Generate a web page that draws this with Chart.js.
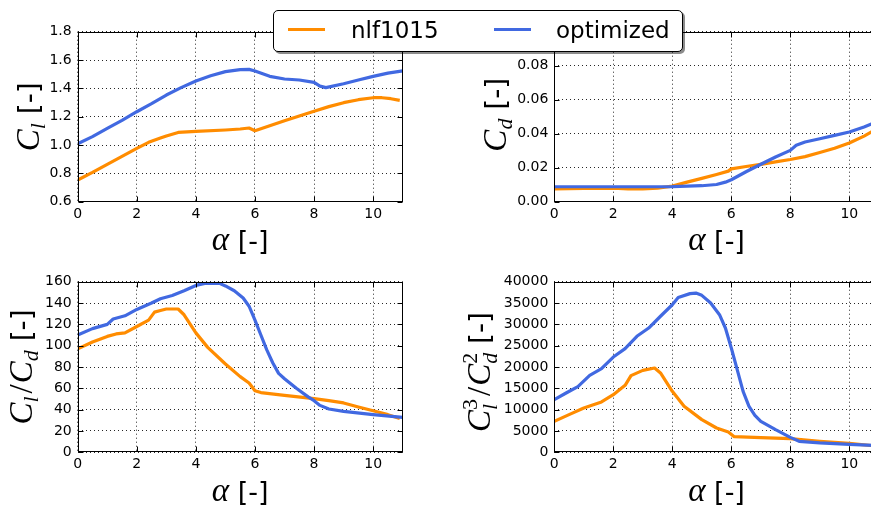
<!DOCTYPE html>
<html>
<head>
<meta charset="utf-8">
<script src="https://cdn.jsdelivr.net/npm/chart.js@4.4.0/dist/chart.umd.min.js"></script>
<style>
html,body{margin:0;padding:0;width:871px;height:506px;overflow:hidden;background:#fff;}
.panel{position:absolute;}
#legend{position:absolute;left:273px;top:10px;width:410px;height:42px;box-sizing:border-box;border:1px solid #000;border-radius:5px;background:#fff;box-shadow:2px 2px 0 rgba(0,0,0,0.45);font-family:"DejaVu Sans";font-size:23px;z-index:10;}
#legend .sw{position:absolute;height:3px;}
#legend .lb{position:absolute;line-height:23px;white-space:nowrap;color:#000;}
</style>
</head>
<body>
<div id="legend"></div>
<div class="panel" id="p_tl"><canvas id="c_tl"></canvas></div>
<div class="panel" id="p_tr"><canvas id="c_tr"></canvas></div>
<div class="panel" id="p_bl"><canvas id="c_bl"></canvas></div>
<div class="panel" id="p_br"><canvas id="c_br"></canvas></div>
<script>
// ---------------- data ----------------
const SERIES_NAMES = ['nlf1015', 'optimized'];

const X_TICKS = [0, 2, 4, 6, 8, 10];
const X_TICK_LABELS = ['0', '2', '4', '6', '8', '10'];

// Cl
const clAlphaBase = [0, 0.5, 1, 1.5, 2, 2.4, 2.8, 3, 3.4, 4, 5, 5.5, 5.8, 6, 6.5, 7, 7.5, 8, 8.5, 9, 9.5, 10, 10.3, 10.6, 10.9];
const clBase      = [0.753, 0.807, 0.864, 0.92, 0.976, 1.019, 1.049, 1.064, 1.089, 1.096, 1.106, 1.113, 1.12, 1.101, 1.136, 1.172, 1.205, 1.238, 1.271, 1.299, 1.32, 1.334, 1.334, 1.327, 1.315];
const clAlphaOpt  = [0, 0.5, 1, 1.5, 2, 2.5, 3, 3.5, 4, 4.5, 5, 5.5, 5.8, 6, 6.5, 7, 7.5, 8, 8.2, 8.4, 9, 9.5, 10, 10.5, 11];
const clOpt       = [1.009, 1.059, 1.118, 1.174, 1.235, 1.292, 1.353, 1.405, 1.452, 1.489, 1.518, 1.532, 1.534, 1.522, 1.485, 1.466, 1.459, 1.442, 1.416, 1.405, 1.433, 1.459, 1.485, 1.508, 1.524];
const CL_TICKS = [0.6, 0.8, 1.0, 1.2, 1.4, 1.6, 1.8];
const CL_TICK_LABELS = ['0.6', '0.8', '1.0', '1.2', '1.4', '1.6', '1.8'];

// Cd
const cdAlphaBase = [0, 1, 2, 2.5, 3, 3.5, 4, 4.5, 5, 5.5, 5.9, 6, 6.5, 7, 7.5, 8, 8.5, 9, 9.5, 10, 10.5, 10.9];
const cdBase      = [0.0076, 0.0078, 0.008, 0.0076, 0.0076, 0.008, 0.0092, 0.0115, 0.0137, 0.016, 0.018, 0.0193, 0.0207, 0.022, 0.0234, 0.0248, 0.0265, 0.0289, 0.0314, 0.0345, 0.0386, 0.0425];
const cdAlphaOpt  = [0, 1, 2, 3, 4, 5, 5.5, 5.8, 6, 6.5, 7, 7.5, 8, 8.2, 8.5, 9, 9.5, 10, 10.5, 11];
const cdOpt       = [0.0088, 0.0088, 0.0088, 0.0088, 0.0089, 0.0094, 0.0101, 0.0115, 0.0129, 0.0176, 0.022, 0.0263, 0.0302, 0.0332, 0.0351, 0.037, 0.039, 0.041, 0.0439, 0.0475];
const CD_TICKS = [0, 0.02, 0.04, 0.06, 0.08, 0.10];
const CD_TICK_LABELS = ['0.00', '0.02', '0.04', '0.06', '0.08', '0.10'];

// Cl/Cd
const ldAlphaBase = [0, 0.5, 1, 1.3, 1.6, 2, 2.4, 2.6, 2.8, 3, 3.4, 3.6, 4, 4.4, 5, 5.5, 5.8, 6, 6.2, 7, 8, 8.5, 9, 9.5, 10, 10.5, 10.9];
const ldBase      = [97, 103.4, 108.7, 111, 112, 118, 124, 131.5, 133, 134.4, 134.4, 129, 112, 98.4, 82.8, 71, 65, 57.8, 56, 53.4, 50.3, 48.4, 46.3, 42.5, 39, 35.3, 31.6];
const ldAlphaOpt  = [0, 0.5, 1, 1.2, 1.6, 2, 2.5, 2.8, 3.2, 3.6, 4, 4.3, 4.8, 5, 5.3, 5.6, 5.8, 6, 6.2, 6.4, 6.6, 6.8, 7, 7.4, 7.8, 8, 8.2, 8.5, 9, 10, 11];
const ldOpt       = [110, 116, 120, 125, 128, 134, 140, 144, 147, 151.5, 156.5, 158.4, 158.4, 156, 151.5, 144.7, 137, 124, 110, 96, 84, 74, 69, 60, 52, 48.4, 44, 40.6, 38.4, 35.3, 32.8];
const LD_TICKS = [0, 20, 40, 60, 80, 100, 120, 140, 160];
const LD_TICK_LABELS = ['0', '20', '40', '60', '80', '100', '120', '140', '160'];

// Cl^3/Cd^2
const peAlphaBase = [0, 0.5, 1, 1.6, 2, 2.4, 2.6, 3, 3.4, 3.6, 4, 4.4, 5, 5.5, 5.9, 6.1, 7, 8, 9, 10, 10.9];
const peBase      = [7270, 8830, 10400, 11800, 13500, 15700, 17970, 19200, 19770, 18600, 14300, 10780, 7660, 5700, 4770, 3670, 3440, 3200, 2580, 2110, 1480];
const peAlphaOpt  = [0, 0.4, 0.8, 1.2, 1.6, 2, 2.4, 2.8, 3.2, 3.6, 4, 4.2, 4.6, 4.8, 5, 5.3, 5.6, 5.8, 6, 6.2, 6.4, 6.6, 6.8, 7, 7.5, 8, 8.3, 9, 10, 11];
const peOpt       = [12340, 13900, 15400, 18050, 19600, 22340, 24300, 27200, 29140, 31900, 34600, 36300, 37200, 37340, 36800, 35000, 32270, 29140, 24450, 19400, 14300, 10780, 8670, 7270, 5300, 3500, 2580, 2190, 1880, 1550];
const PE_TICKS = [0, 5000, 10000, 15000, 20000, 25000, 30000, 35000, 40000];
const PE_TICK_LABELS = ['0', '5000', '10000', '15000', '20000', '25000', '30000', '35000', '40000'];

// ---------------- style ----------------
const COLORS = ['#ff8c00', '#4169e1'];
const SERIF_I = (s) => 'italic ' + s + 'px "Liberation Serif"';
const SERIF = (s) => s + 'px "Liberation Serif"';
const SANS = (s) => s + 'px "DejaVu Sans"';
const BIG = 33, SMALL = 22, BR_SZ = 28;

const X_TITLE = [{t: 'α', font: SERIF_I(BIG)}, {t: ' [-]', font: SANS(27)}];
const Y_TITLES = {
  tl: [{t: 'C', font: SERIF_I(BIG)}, {t: 'l', font: SERIF_I(SMALL), dy: 6}, {t: ' [-]', font: SANS(BR_SZ)}],
  tr: [{t: 'C', font: SERIF_I(BIG)}, {t: 'd', font: SERIF_I(SMALL), dy: 6}, {t: ' [-]', font: SANS(BR_SZ)}],
  bl: [{t: 'C', font: SERIF_I(BIG)}, {t: 'l', font: SERIF_I(SMALL), dy: 6, gap: 3}, {t: '/', font: SERIF(BIG), gap: 1},
       {t: 'C', font: SERIF_I(BIG)}, {t: 'd', font: SERIF_I(SMALL), dy: 6}, {t: ' [-]', font: SANS(BR_SZ)}],
  br: [{t: 'C', font: SERIF_I(BIG)}, {sup: '3', sub: 'l', font: SERIF(SMALL), subFont: SERIF_I(SMALL), supDy: -13, subDy: 7, gap: 3},
       {t: '/', font: SERIF(BIG), gap: 1},
       {t: 'C', font: SERIF_I(BIG)}, {sup: '2', sub: 'd', font: SERIF(SMALL), subFont: SERIF_I(SMALL), supDy: -13, subDy: 7},
       {t: ' [-]', font: SANS(BR_SZ)}]
};

// layout (chart areas in page pixels and container boxes)
const PANELS = {
  tl: {box: [0, 0, 413, 262],     area: [77.7, 31.7, 402.7, 201.7], yTitleX: 39, yTitleShift: 0},
  tr: {box: [450, 0, 440, 262],   area: [554.3, 31.7, 878.8, 201.7], yTitleX: 506, yTitleShift: -2},
  bl: {box: [0, 262, 413, 244],   area: [77.7, 281.7, 402.7, 452.3], yTitleX: 32, yTitleShift: 0},
  br: {box: [450, 262, 440, 244], area: [554.3, 281.7, 878.8, 452.3], yTitleX: 490, yTitleShift: 5}
};
const X_AXIS_H = 20;
const X_TITLE_BASELINE = 48.5;

function measureSegs(ctx, segs) {
  return segs.map(s => {
    if (s.sup !== undefined) {
      ctx.font = s.font; const a = ctx.measureText(s.sup).width;
      ctx.font = s.subFont || s.font; const b = ctx.measureText(s.sub).width;
      return Math.max(a, b) + (s.gap || 0);
    }
    ctx.font = s.font; return ctx.measureText(s.t).width + (s.gap || 0);
  });
}
function drawRich(ctx, segs, cx, cy, rotate) {
  const w = measureSegs(ctx, segs);
  const total = w.reduce((a, b) => a + b, 0);
  ctx.save();
  ctx.translate(cx, cy);
  if (rotate) ctx.rotate(-Math.PI / 2);
  ctx.fillStyle = '#000';
  ctx.textAlign = 'left';
  ctx.textBaseline = 'alphabetic';
  let x = -total / 2;
  segs.forEach((s, i) => {
    if (s.sup !== undefined) {
      ctx.font = s.font; ctx.fillText(s.sup, x, s.supDy);
      ctx.font = s.subFont || s.font; ctx.fillText(s.sub, x, s.subDy);
    } else {
      ctx.font = s.font; ctx.fillText(s.t, x, s.dy || 0);
    }
    x += w[i];
  });
  ctx.restore();
}

const framePlugin = {
  id: 'mplFrame',
  afterDraw(chart, args, opts) {
    const {ctx, chartArea: a, scales} = chart;
    const L = Math.round(a.left) + 0.5, R = Math.round(a.right) - 0.5;
    const T = Math.round(a.top) + 0.5, B = Math.round(a.bottom) - 0.5;
    ctx.save();
    ctx.strokeStyle = '#000';
    ctx.lineWidth = 1;
    ctx.beginPath();
    const TL = 5;
    scales.x.ticks.forEach(t => {
      const px = Math.round(scales.x.getPixelForValue(t.value)) + 0.5;
      ctx.moveTo(px, B); ctx.lineTo(px, B - TL);
      ctx.moveTo(px, T); ctx.lineTo(px, T + TL);
    });
    scales.y.ticks.forEach(t => {
      const py = Math.round(scales.y.getPixelForValue(t.value)) + 0.5;
      ctx.moveTo(L, py); ctx.lineTo(L + TL, py);
      ctx.moveTo(R, py); ctx.lineTo(R - TL, py);
    });
    ctx.stroke();
    ctx.strokeRect(L, T, R - L, B - T);
    ctx.restore();
    // axis titles
    drawRich(ctx, opts.xTitle, (a.left + a.right) / 2, a.bottom + X_TITLE_BASELINE, false);
    drawRich(ctx, opts.yTitle, opts.yTitleX, (a.top + a.bottom) / 2 + opts.yTitleShift, true);
  }
};

function pts(xs, ys) { return xs.map((x, i) => ({x: x, y: ys[i]})); }

function makePanel(key, series, yMin, yMax, yTicks, yLabels) {
  const P = PANELS[key];
  const [bx, by, bw, bh] = P.box;
  const [al, at, ar, ab] = P.area;
  const el = document.getElementById('p_' + key);
  el.style.left = bx + 'px'; el.style.top = by + 'px';
  el.style.width = bw + 'px'; el.style.height = bh + 'px';
  const yW = al - bx;
  const pad = {left: 0, top: at - by, right: bx + bw - ar, bottom: by + bh - ab - X_AXIS_H};
  const tickFont = {family: 'DejaVu Sans', size: 14};
  new Chart(document.getElementById('c_' + key), {
    type: 'scatter',
    data: {
      datasets: series.map((s, i) => ({
        label: SERIES_NAMES[i],
        data: pts(s[0], s[1]),
        showLine: true,
        borderColor: COLORS[i],
        backgroundColor: COLORS[i],
        borderWidth: 3.2,
        pointRadius: 0,
        pointHoverRadius: 0,
        tension: 0,
        borderJoinStyle: 'round',
        order: i === 1 ? 0 : 1
      }))
    },
    options: {
      responsive: true,
      maintainAspectRatio: false,
      animation: false,
      devicePixelRatio: 1,
      layout: {padding: pad},
      plugins: {
        legend: {display: false},
        tooltip: {enabled: false},
        mplFrame: {xTitle: X_TITLE, yTitle: Y_TITLES[key], yTitleX: P.yTitleX - bx, yTitleShift: P.yTitleShift}
      },
      scales: {
        x: {
          type: 'linear', min: 0, max: 11,
          afterBuildTicks: s => { s.ticks = X_TICKS.map(v => ({value: v})); },
          afterFit: s => { s.height = X_AXIS_H; },
          ticks: {font: tickFont, color: '#000', padding: 4, maxRotation: 0, autoSkip: false,
                  callback: (v) => X_TICK_LABELS[X_TICKS.indexOf(v)]},
          grid: {color: 'rgba(0,0,0,0.85)', lineWidth: 1, drawTicks: false},
          border: {display: false, dash: [1, 3]}
        },
        y: {
          type: 'linear', min: yMin, max: yMax,
          afterBuildTicks: s => { s.ticks = yTicks.map(v => ({value: v})); },
          afterFit: s => { s.width = yW; },
          ticks: {font: tickFont, color: '#000', padding: 6, autoSkip: false,
                  callback: (v) => { const k = yTicks.findIndex(t => Math.abs(t - v) < 1e-9); return yLabels[k]; }},
          grid: {color: 'rgba(0,0,0,0.85)', lineWidth: 1, drawTicks: false},
          border: {display: false, dash: [1, 3]}
        }
      }
    },
    plugins: [framePlugin]
  });
}

Chart.defaults.font.family = 'DejaVu Sans';

makePanel('tl', [[clAlphaBase, clBase], [clAlphaOpt, clOpt]], 0.6, 1.8, CL_TICKS, CL_TICK_LABELS);
makePanel('tr', [[cdAlphaBase, cdBase], [cdAlphaOpt, cdOpt]], 0, 0.1, CD_TICKS, CD_TICK_LABELS);
makePanel('bl', [[ldAlphaBase, ldBase], [ldAlphaOpt, ldOpt]], 0, 160, LD_TICKS, LD_TICK_LABELS);
makePanel('br', [[peAlphaBase, peBase], [peAlphaOpt, peOpt]], 0, 40000, PE_TICKS, PE_TICK_LABELS);

// legend (HTML)
const LEG_SWATCH_X = [14, 220];
const LEG_TEXT_X = [77, 282];
const lg = document.getElementById('legend');
SERIES_NAMES.forEach((n, i) => {
  const sw = document.createElement('div');
  sw.className = 'sw';
  sw.style.left = LEG_SWATCH_X[i] + 'px'; sw.style.top = '17px'; sw.style.width = '37px';
  sw.style.background = COLORS[i];
  lg.appendChild(sw);
  const lb = document.createElement('div');
  lb.className = 'lb';
  lb.style.left = LEG_TEXT_X[i] + 'px'; lb.style.top = '7.5px';
  lb.textContent = n;
  lg.appendChild(lb);
});
</script>
</body>
</html>
